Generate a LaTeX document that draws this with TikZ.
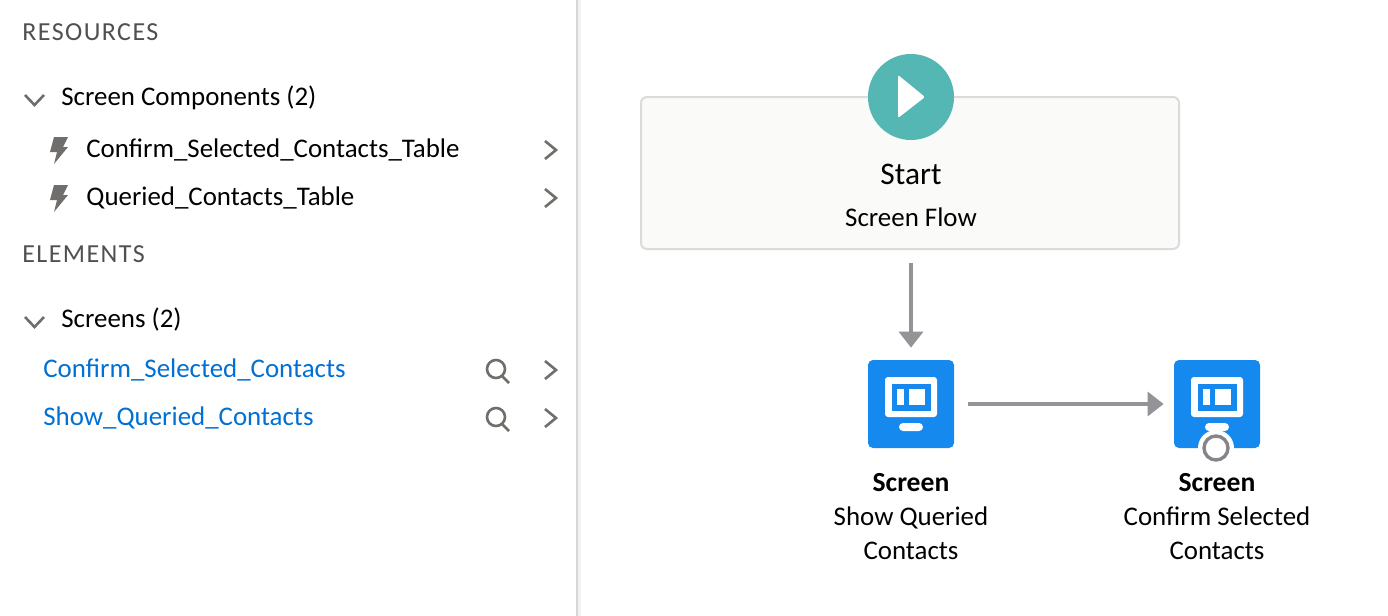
\documentclass[tikz,border=0pt]{standalone}
\usepackage{fontspec}
\setmainfont{Carlito}
\usepackage{tikz}
\usetikzlibrary{arrows.meta}
\definecolor{flowblue}{RGB}{21, 137, 238}
\definecolor{linkblue}{RGB}{0, 112, 210}
\definecolor{startteal}{RGB}{84, 183, 180}
\definecolor{arrowgrey}{RGB}{147, 147, 152}
\definecolor{icongrey}{RGB}{112, 110, 107}
\definecolor{headgrey}{RGB}{80, 80, 80}
\definecolor{boxline}{RGB}{221, 219, 218}
\definecolor{boxfill}{RGB}{250, 250, 248}
\tikzset{
  heading/.style={anchor=base west, inner sep=0pt, text=headgrey, font=\fontsize{13}{15}\selectfont\addfontfeatures{LetterSpace=5.5}},
  treeitem/.style={anchor=base west, inner sep=0pt, font=\fontsize{13.45}{16}\selectfont},
  linkitem/.style={treeitem, text=linkblue},
  flowtext/.style={anchor=base, inner sep=0pt, font=\fontsize{13.45}{16}\selectfont},
  chevron/.style={icongrey, line width=1.3pt},
  tile/.style={draw=none, fill=flowblue, rounded corners=2.5pt, minimum width=43pt, minimum height=44pt, inner sep=0pt},
  flowarrow/.style={arrowgrey, line width=1.75pt, -{Triangle[length=8pt, width=12pt]}}
}
\begin{document}
\begin{tikzpicture}[x=0.5pt, y=-0.5pt]
    \useasboundingbox (0,0) rectangle (1388,616);
    \fill[white] (0,0) rectangle (1388,616);
    % panel edge
    \fill[black!5] (578,0) rectangle (581,616);
    \fill[black!16] (576,0) rectangle (578,616);
    % left panel
    \node[heading] (resources) at (22,40) {RESOURCES};
    \node[treeitem] (components) at (61,105) {Screen Components (2)};
    \node[treeitem] (confirmtable) at (86,157) {Confirm\_Selected\_Contacts\_Table};
    \node[treeitem] (queriedtable) at (86,205) {Queried\_Contacts\_Table};
    \node[heading] (elements) at (22,262) {ELEMENTS};
    \node[treeitem] (screens) at (61,327) {Screens (2)};
    \node[linkitem] (confirmlink) at (43,377) {Confirm\_Selected\_Contacts};
    \node[linkitem] (showlink) at (43,425) {Show\_Queried\_Contacts};
    \foreach \y in {95, 317}
      \draw[chevron] (25,\y) -- (34.5,\y+10) -- (44,\y);
    \foreach \y in {141, 189, 361, 409}
      \draw[chevron] (545,\y) -- (556,\y+9) -- (545,\y+18);
    \foreach \y in {137, 185}
      \fill[icongrey] (54,\y) -- (68,\y) -- (63,\y+10) -- (68,\y+10) -- (54,\y+27) -- (57,\y+15) -- (50,\y+15) -- cycle;
    \foreach \y in {369, 417} {
      \draw[chevron] (496,\y) circle[radius=9];
      \draw[chevron] (502,\y+7) -- (509,\y+14);
    }
    % start box
    \node[draw=boxline, fill=boxfill, line width=1pt, rounded corners=3pt, minimum width=269pt, minimum height=76pt, inner sep=0pt] (startbox) at (910,173) {};
    \node[circle, fill=startteal, minimum size=43pt, inner sep=0pt] (startdot) at (911,97) {};
    \fill[white, rounded corners=1pt] (898,75) -- (925,97) -- (898,118) -- cycle;
    \node[flowtext, font=\fontsize{15.7}{18}\selectfont] (starttitle) at (911,184) {Start};
    \node[flowtext] (startsub) at (911,226) {Screen Flow};
    % screen tiles
    \node[tile] (showtile) at (911,404) {};
    \node[tile] (confirmtile) at (1217,404) {};
    \foreach \x in {0, 306} {
      \fill[white, rounded corners=1.5pt] (885+\x,377) rectangle (937+\x,417);
      \fill[flowblue] (892+\x,384) rectangle (931+\x,411);
      \fill[white] (897+\x,389) rectangle (904+\x,405);
      \fill[white] (909+\x,389) rectangle (925+\x,405);
      \fill[white, rounded corners=2pt] (899+\x,423) rectangle (923+\x,431);
    }
    \node[circle, fill=white, minimum size=18pt, inner sep=0pt] (endhalo) at (1216,448) {};
    \node[circle, draw=arrowgrey!90!black, fill=white, line width=1.7pt, minimum size=12pt, inner sep=0pt] (endring) at (1216,448) {};
    % connectors
    \draw[flowarrow, shorten <=6.5pt, shorten >=6pt] (startbox.south -| startdot.south) -- (showtile.north);
    \draw[flowarrow, shorten <=7pt, shorten >=5pt] (showtile.east) -- (confirmtile.west);
    % labels
    \node[flowtext, font=\fontsize{13.8}{16}\selectfont\bfseries] (showtitle) at (911,491) {Screen};
    \node[flowtext] (showname) at (911,525) {Show Queried};
    \node[flowtext] (showname2) at (911,559) {Contacts};
    \node[flowtext, font=\fontsize{13.8}{16}\selectfont\bfseries] (confirmtitle) at (1217,491) {Screen};
    \node[flowtext] (confirmname) at (1217,525) {Confirm Selected};
    \node[flowtext] (confirmname2) at (1217,559) {Contacts};
\end{tikzpicture}
\end{document}
